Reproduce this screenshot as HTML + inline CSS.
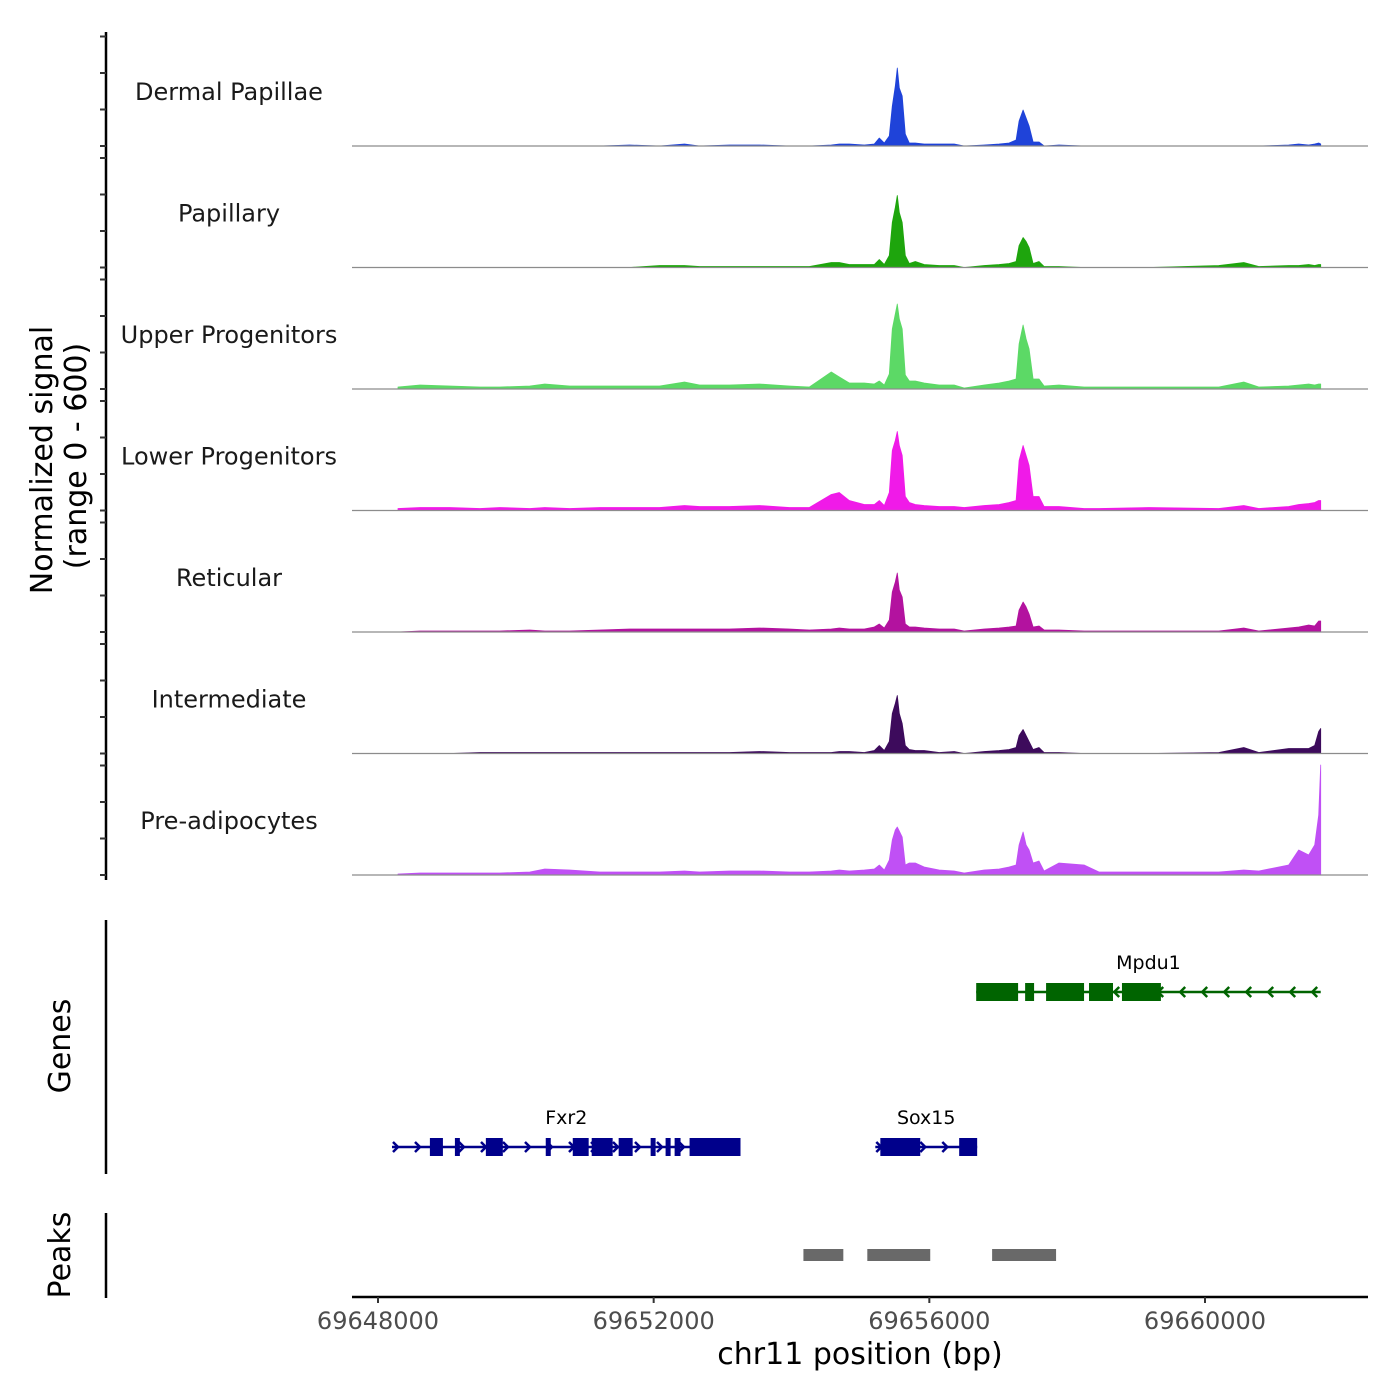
<!DOCTYPE html>
<html><head><meta charset="utf-8"><style>
html,body{margin:0;padding:0;background:#fff;}
svg{display:block;font-family:"DejaVu Sans","Liberation Sans",sans-serif;}
</style></head><body>
<svg id="chart" width="1400" height="1400" viewBox="0 0 1400 1400" xmlns="http://www.w3.org/2000/svg">
<rect x="0" y="0" width="1400" height="1400" fill="#fff"/>
<g id="tracks"></g>
<g id="genes"></g>
<g id="peaks"></g>
<g id="axes"></g>
<text transform="translate(52,460) rotate(-90)" text-anchor="middle" font-size="30" fill="#000">Normalized signal</text>
<text transform="translate(86,456) rotate(-90)" text-anchor="middle" font-size="30" fill="#000">(range 0 - 600)</text>
<text transform="translate(70,1046) rotate(-90)" text-anchor="middle" font-size="30" fill="#000">Genes</text>
<text transform="translate(70,1255) rotate(-90)" text-anchor="middle" font-size="30" fill="#000">Peaks</text>
<text x="860" y="1364" text-anchor="middle" font-size="30" fill="#000">chr11 position (bp)</text>
</svg>
<script>
const trackNames = ["Dermal Papillae","Papillary","Upper Progenitors","Lower Progenitors","Reticular","Intermediate","Pre-adipocytes"];
const trackColors = ["#1f43d9","#1ea50d","#5cd966","#f01ae8","#b3129f","#3d0b5c","#c050f5"];
const positions = [69648290,69648609,69649043,69649478,69649768,69650202,69650420,69650782,69651217,69651651,69652086,69652448,69652666,69653100,69653535,69653970,69654260,69654578,69654694,69654839,69655057,69655202,69655274,69655346,69655419,69655462,69655506,69655535,69655564,69655607,69655651,69655709,69655796,69655926,69656143,69656361,69656506,69656795,69657013,69657158,69657259,69657302,69657360,69657404,69657447,69657505,69657592,69657665,69657882,69658245,69658462,69659186,69660200,69660563,69660780,69661215,69661360,69661505,69661592,69661650,69661679];
const dermalValues = [0,0,0,0,0,0,0,0,0,5,0,10,0,5,5,0,0,5,10,10,5,10,40,15,50,200,300,390,290,250,60,15,15,10,10,10,0,5,10,15,30,125,180,140,100,20,20,0,5,0,0,0,0,0,0,5,10,5,10,15,10];
const papillaryValues = [0,0,0,0,0,0,0,0,0,0,10,10,5,5,5,5,5,25,25,15,15,15,40,15,60,225,300,360,275,225,60,20,30,15,10,10,0,10,15,20,30,110,150,130,100,20,30,5,5,0,0,0,10,25,5,10,10,15,10,15,15];
const upperValues = [10,20,15,10,10,15,25,15,15,15,15,35,20,20,25,15,10,85,60,30,30,25,40,20,75,300,375,425,350,300,70,40,40,30,20,20,5,20,30,40,50,225,320,250,200,50,50,15,20,10,10,10,10,35,10,15,20,25,20,25,25];
const lowerValues = [10,15,15,10,15,10,15,10,15,15,15,25,20,20,25,15,15,80,90,50,30,30,50,25,90,300,350,395,325,275,70,40,30,25,20,20,15,25,30,40,50,250,325,275,225,70,70,20,20,10,10,15,10,25,10,20,30,35,40,50,50];
const reticularValues = [0,5,5,5,5,10,5,5,10,15,15,15,15,15,20,15,10,15,20,15,15,25,40,20,60,200,250,295,210,175,40,25,25,20,15,15,5,15,20,25,30,110,150,125,90,25,30,10,10,5,5,5,5,20,5,20,25,35,30,55,55];
const intermediateValues = [0,0,0,5,5,5,5,5,5,5,5,5,5,5,10,5,5,5,10,10,5,15,40,15,60,200,250,290,200,150,40,20,15,15,5,10,0,10,15,20,30,90,120,90,60,20,30,5,5,0,0,0,5,30,5,25,25,25,40,110,125];
const preadipValues = [5,10,10,10,10,15,30,25,15,15,15,20,15,20,20,15,15,20,25,20,25,30,50,25,75,175,225,240,220,190,50,60,60,40,25,20,10,25,30,40,50,150,215,150,125,60,70,20,60,50,15,15,15,25,20,50,125,100,150,300,550];
const seriesValues = [dermalValues,papillaryValues,upperValues,lowerValues,reticularValues,intermediateValues,preadipValues];
const xTicks = [69648000,69652000,69656000,69660000];
const xTickLabels = ["69648000","69652000","69656000","69660000"];
const geneNames = ["Mpdu1","Fxr2","Sox15"];
const geneStarts = [69656680,69648203,69655216];
const geneEnds = [69661679,69653260,69656694];
const geneStrands = [-1,1,1];
const geneRows = [0,1,1];
const exonStarts = [[69656680,69657390,69657694,69658317,69658795],[69648753,69649116,69649565,69650434,69650826,69651101,69651492,69651956,69652173,69652304,69652521],[69655289,69656433]];
const exonEnds = [[69657288,69657520,69658245,69658665,69659360],[69648942,69649188,69649811,69650507,69651057,69651405,69651695,69652028,69652246,69652390,69653260],[69655868,69656694]];
const peakStarts = [69654173,69655100,69656911];
const peakEnds = [69654752,69656013,69657839];

const NS="http://www.w3.org/2000/svg";
function mk(tag,attrs,parent){const e=document.createElementNS(NS,tag);for(const k in attrs)e.setAttribute(k,attrs[k]);parent.appendChild(e);return e;}
const xScale = bp => 378 + (bp-69648000)*(827/12000);
const baseline0 = 146, trackStep = 121.5;
const yScale = (v,b) => b - v/600*120;

const tracks=document.getElementById('tracks');
seriesValues.forEach((vals,t)=>{
  const b = baseline0 + t*trackStep;
  const g = mk('g',{},tracks);
  
  
  let d = 'M'+xScale(positions[0]).toFixed(1)+','+b;
  vals.forEach((v,i)=>{ d += ' L'+xScale(positions[i]).toFixed(1)+','+yScale(v,b).toFixed(1); });
  d += ' L'+xScale(positions[positions.length-1]).toFixed(1)+','+b+' Z';
  const area = mk('path',{d:d,fill:trackColors[t],stroke:trackColors[t],'stroke-width':'0.8','stroke-linejoin':'round'},g);
  
  
  const bl = mk('line',{x1:352,x2:1368,y1:b,y2:b,stroke:'#8c8c8c','stroke-width':'1.2'},g);
  
  
  const lab = mk('text',{x:229,y:b-46,'text-anchor':'middle','font-size':'24',fill:'#1a1a1a'},g);
  
  
  lab.textContent = trackNames[t];
});

const axes=document.getElementById('axes');
let l = mk('line',{x1:106,x2:106,y1:32,y2:880,stroke:'#000','stroke-width':'2.5'},axes);


for(let t=0;t<7;t++){const b=baseline0+t*trackStep;for(let j=0;j<4;j++){
  const tk=mk('line',{x1:100,x2:106,y1:b-j*36.5,y2:b-j*36.5,stroke:'#333','stroke-width':'2'},axes);
  
  
}}
l = mk('line',{x1:106,x2:106,y1:920,y2:1174,stroke:'#000','stroke-width':'2.5'},axes);


l = mk('line',{x1:106,x2:106,y1:1213,y2:1298,stroke:'#000','stroke-width':'2.5'},axes);


l = mk('line',{x1:352,x2:1368,y1:1297,y2:1297,stroke:'#000','stroke-width':'2.5'},axes);


xTicks.forEach((v,i)=>{
  const x=xScale(v);
  const tk=mk('line',{x1:x,x2:x,y1:1297,y2:1303,stroke:'#333','stroke-width':'2'},axes);
  
  
  const tl=mk('text',{x:x,y:1329,'text-anchor':'middle','font-size':'24',fill:'#4d4d4d'},axes);
  
  
  tl.textContent=xTickLabels[i];
});

const genes=document.getElementById('genes');
const rowY=[992,1147];
geneNames.forEach((name,gi)=>{
  const color = gi===0 ? '#006400' : '#00008b';
  const y=rowY[geneRows[gi]];
  const g=mk('g',{},genes);
  
  
  const x1=xScale(geneStarts[gi]), x2=xScale(geneEnds[gi]);
  mk('line',{x1:x1,x2:x2,y1:y,y2:y,stroke:color,'stroke-width':'2.5'},g);
  for(let x=x1+6;x<x2-3;x+=22){
    const s=geneStrands[gi]*5;
    mk('polyline',{points:(x-s)+','+(y-5)+' '+x+','+y+' '+(x-s)+','+(y+5),fill:'none',stroke:color,'stroke-width':'2.5'},g);
  }
  exonStarts[gi].forEach((s,k)=>{
    const r=mk('rect',{x:xScale(s),y:y-9,width:Math.max(3,xScale(exonEnds[gi][k])-xScale(s)),height:18,fill:color},g);
    
    
  });
  const tl=mk('text',{x:(x1+x2)/2,y:y-23,'text-anchor':'middle','font-size':'19',fill:'#000'},g);
  
  
  tl.textContent=name;
});

const peaks=document.getElementById('peaks');
peakStarts.forEach((s,i)=>{
  const r=mk('rect',{x:xScale(s),y:1249,width:xScale(peakEnds[i])-xScale(s),height:12,fill:'#696969'},peaks);
  
  
});
</script>
</body></html>
